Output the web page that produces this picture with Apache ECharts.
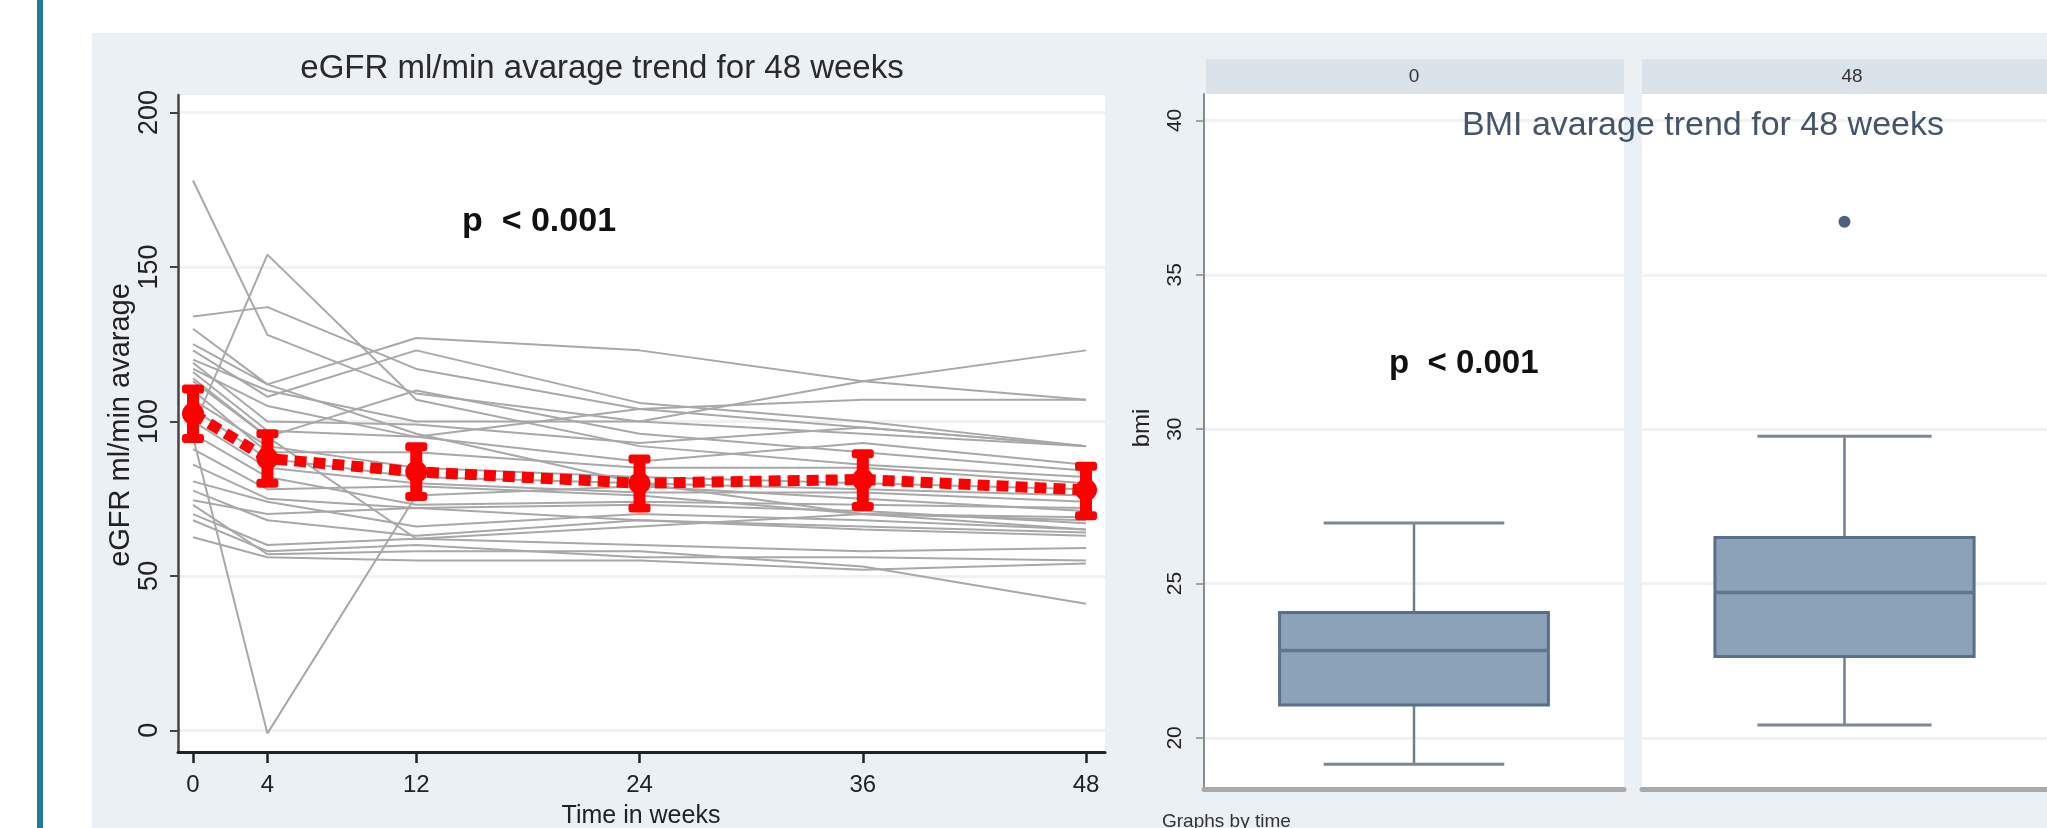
<!DOCTYPE html>
<html><head><meta charset="utf-8">
<script src="https://cdn.jsdelivr.net/npm/echarts@6/dist/echarts.min.js"></script>
<style>html,body{margin:0;padding:0;background:#fff}#c{width:2047px;height:828px}</style>
</head><body><div id="c"></div>
<script>
// ---- data ----
const weeks = [0, 4, 12, 24, 36, 48];
const egfrTicks = [0, 50, 100, 150, 200];
const subjects = [
  [178, 128, 109, 100, 96, 92],
  [98, 154, 107, 92, 86, 82],
  [95, -1, 76, 79, 75, 71],
  [134, 137, 117, 104, 98, 92],
  [125, 112, 127, 123, 113, 107],
  [123, 108, 123, 106, 100, 92],
  [120, 110, 100, 100, 113, 123],
  [117, 105, 95, 104, 107, 107],
  [119, 100, 99, 93, 98, 92],
  [116, 97, 95, 87, 93, 86],
  [114, 95, 110, 96, 90, 84],
  [110, 90, 90, 85, 85, 80],
  [107, 92, 85, 82, 80, 78],
  [104, 88, 82, 80, 78, 76],
  [100, 85, 80, 77, 77, 74],
  [96, 82, 73, 74, 73, 72],
  [91, 78, 79, 76, 70, 69],
  [86, 75, 72, 73, 71, 67],
  [80.6, 74, 66, 70, 68, 65],
  [77.6, 68, 63, 68, 66, 64],
  [74.5, 70, 72, 68, 65, 63],
  [70, 60, 62, 60, 58, 59],
  [68, 58, 60, 56, 56, 55],
  [62.5, 56, 55, 55, 52, 54],
  [73, 57, 58, 58, 53, 41],
  [113, 95, 62, 66, 70, 68],
  [130, 112, 96, 80, 70, 65]
];
const meanEGFR = [102.5, 88, 83.7, 80, 81.2, 77.8];
const ciLow = [94, 79.5, 75.2, 71.5, 72, 69];
const ciHigh = [111, 96.5, 92.3, 88.3, 90, 86];

const bmiGroups = ['0', '48'];
const bmiTicks = [20, 25, 30, 35, 40];
const bmiWhiskerLow = [19.15, 20.42];
const bmiQ1 = [21.07, 22.64];
const bmiMedian = [22.83, 24.71];
const bmiQ3 = [24.06, 26.49];
const bmiWhiskerHigh = [26.96, 29.77];
const bmiOutliers48 = [36.72];

// ---- fonts ----
function fontOK(name) {
  const c = document.createElement('canvas').getContext('2d');
  const s = 'mmmmmmmmmmlli0123456789Time';
  c.font = '40px monospace'; const a = c.measureText(s).width;
  c.font = "40px '" + name + "', monospace"; const b = c.measureText(s).width;
  return Math.abs(a - b) > 0.5;
}
const HAS_NARROW = fontOK('Liberation Sans Narrow');
const NARROW = HAS_NARROW ? "'Liberation Sans Narrow', 'Liberation Sans', sans-serif" : "'Liberation Sans', sans-serif";
const nsz = s => HAS_NARROW ? s : Math.round(s * 0.84);
const SANS = "'Liberation Sans', Arial, sans-serif";

const chart = echarts.init(document.getElementById('c'), null, {renderer: 'canvas'});

const greySeries = subjects.map(s => ({
  type: 'line', xAxisIndex: 0, yAxisIndex: 0,
  data: weeks.map((w, j) => [w, s[j]]),
  symbol: 'none', silent: true, z: 2,
  lineStyle: {color: '#a8a8a8', width: 2}
}));

const RED = '#ff0000';
function errRender(params, api) {
  const x = api.value(0), m = api.value(1), lo = api.value(2), hi = api.value(3);
  const pm = api.coord([x, m]), pl = api.coord([x, lo]), ph = api.coord([x, hi]);
  return {type: 'group', children: [
    {type: 'rect', shape: {x: pm[0] - 6, y: ph[1], width: 12, height: pl[1] - ph[1]}, style: {fill: RED}},
    {type: 'rect', shape: {x: pm[0] - 11, y: ph[1] - 3, width: 22, height: 9, r: 3}, style: {fill: RED}},
    {type: 'rect', shape: {x: pm[0] - 11, y: pl[1] - 6, width: 22, height: 9, r: 3}, style: {fill: RED}},
    {type: 'circle', shape: {cx: pm[0], cy: pm[1], r: 11}, style: {fill: RED}}
  ]};
}

function boxRender(params, api) {
  const c = api.value(0);
  const wl = api.value(1), q1 = api.value(2), med = api.value(3), q3 = api.value(4), wh = api.value(5);
  const band = api.size([1, 0])[0];
  const bw = band * 0.64, cw = band * 0.43;
  const pq1 = api.coord([c, q1]), pq3 = api.coord([c, q3]), pm = api.coord([c, med]);
  const pwl = api.coord([c, wl]), pwh = api.coord([c, wh]);
  const cx = pq1[0];
  const wStyle = {stroke: '#6f7f92', lineWidth: 2.5};
  return {type: 'group', children: [
    {type: 'line', shape: {x1: cx, y1: pwh[1], x2: cx, y2: pq3[1]}, style: wStyle},
    {type: 'line', shape: {x1: cx, y1: pq1[1], x2: cx, y2: pwl[1]}, style: wStyle},
    {type: 'line', shape: {x1: cx - cw / 2, y1: pwh[1], x2: cx + cw / 2, y2: pwh[1]}, style: {stroke: '#7d8694', lineWidth: 3}},
    {type: 'line', shape: {x1: cx - cw / 2, y1: pwl[1], x2: cx + cw / 2, y2: pwl[1]}, style: {stroke: '#7d8694', lineWidth: 3}},
    {type: 'rect', shape: {x: cx - bw / 2, y: pq3[1], width: bw, height: pq1[1] - pq3[1]},
      style: {fill: '#8ba2b8', stroke: '#586f89', lineWidth: 3}},
    {type: 'line', shape: {x1: cx - bw / 2, y1: pm[1], x2: cx + bw / 2, y2: pm[1]}, style: {stroke: '#5f7690', lineWidth: 3.5}}
  ]};
}

const bmiYBase = {
  type: 'value', min: 18.33, max: 40.855,
  axisLine: {show: true, onZero: false, lineStyle: {color: '#8a8a8a', width: 2}},
  axisTick: {show: true, customValues: bmiTicks, length: 8, lineStyle: {color: '#8a8a8a', width: 1.5}},
  axisLabel: {show: true, customValues: bmiTicks, rotate: 90, margin: 18, fontSize: 21, fontFamily: SANS, color: '#222'},
  splitLine: {show: true, lineStyle: {color: '#eff1f2', width: 3}}
};

const option = {
  animation: false,
  backgroundColor: '#ffffff',
  grid: [
    {left: 178, top: 95, width: 927, height: 657, show: true, backgroundColor: '#ffffff', borderWidth: 0},
    {left: 1204, top: 94, width: 420, height: 695.5, show: true, backgroundColor: '#ffffff', borderWidth: 0},
    {left: 1642, top: 94, width: 420, height: 695.5, show: true, backgroundColor: '#ffffff', borderWidth: 0}
  ],
  xAxis: [
    {gridIndex: 0, type: 'value', min: -0.806, max: 49.02,
      axisLine: {show: true, onZero: false, lineStyle: {color: '#222', width: 3}},
      axisTick: {show: true, customValues: weeks, length: 11, lineStyle: {color: '#222', width: 2.5}},
      axisLabel: {customValues: weeks, margin: 21, fontSize: nsz(29), fontFamily: NARROW, color: '#222'},
      splitLine: {show: false}},
    {gridIndex: 1, type: 'category', data: [bmiGroups[0]],
      axisLine: {show: true, lineStyle: {color: '#a9a9a9', width: 5}},
      axisTick: {show: false}, axisLabel: {show: false}, splitLine: {show: false}},
    {gridIndex: 2, type: 'category', data: [bmiGroups[1]],
      axisLine: {show: true, lineStyle: {color: '#a9a9a9', width: 5}},
      axisTick: {show: false}, axisLabel: {show: false}, splitLine: {show: false}}
  ],
  yAxis: [
    {gridIndex: 0, type: 'value', min: -7.02, max: 205.67,
      axisLine: {show: true, onZero: false, lineStyle: {color: '#444', width: 2.5}},
      axisTick: {show: true, customValues: egfrTicks, length: 8, lineStyle: {color: '#444', width: 2}},
      axisLabel: {customValues: egfrTicks, rotate: 90, margin: 15, fontSize: 27, fontFamily: SANS, color: '#222'},
      splitLine: {show: true, lineStyle: {color: '#eef2f4', width: 3}}},
    Object.assign({gridIndex: 1}, bmiYBase),
    Object.assign({gridIndex: 2}, bmiYBase, {
      axisLine: {show: false}, axisTick: {show: false, customValues: bmiTicks},
      axisLabel: {show: false, customValues: bmiTicks}})
  ],
  series: greySeries.concat([
    {type: 'line', xAxisIndex: 0, yAxisIndex: 0, z: 3, symbol: 'none', silent: true,
      data: weeks.map((w, i) => [w, meanEGFR[i]]),
      lineStyle: {color: RED, width: 11, type: [12, 7], cap: 'butt'}},
    {type: 'custom', xAxisIndex: 0, yAxisIndex: 0, z: 4, silent: true,
      data: weeks.map((w, i) => [w, meanEGFR[i], ciLow[i], ciHigh[i]]),
      encode: {x: 0, y: 1}, renderItem: errRender},
    {type: 'custom', xAxisIndex: 1, yAxisIndex: 1, z: 3, silent: true,
      data: [[0, bmiWhiskerLow[0], bmiQ1[0], bmiMedian[0], bmiQ3[0], bmiWhiskerHigh[0]]],
      encode: {x: 0, y: 3}, renderItem: boxRender},
    {type: 'custom', xAxisIndex: 2, yAxisIndex: 2, z: 3, silent: true,
      data: [[0, bmiWhiskerLow[1], bmiQ1[1], bmiMedian[1], bmiQ3[1], bmiWhiskerHigh[1]]],
      encode: {x: 0, y: 3}, renderItem: boxRender},
    {type: 'scatter', xAxisIndex: 2, yAxisIndex: 2, z: 4, silent: true,
      data: bmiOutliers48.map(v => [0, v]), symbol: 'circle', symbolSize: 12,
      itemStyle: {color: '#1f3a5f'}}
  ]),
  graphic: [
    {type: 'rect', z: -10, shape: {x: 92, y: 33, width: 1955, height: 795}, style: {fill: '#eaf0f3'}},
    {type: 'rect', z: -10, shape: {x: 37, y: 0, width: 6, height: 828}, style: {fill: '#1f7b9d'}},
    {type: 'rect', z: -5, shape: {x: 1206, y: 59, width: 418, height: 35}, style: {fill: '#d9e3e9'}},
    {type: 'rect', z: -5, shape: {x: 1642, y: 59, width: 420, height: 35}, style: {fill: '#d9e3e9'}},
    {type: 'text', z: 50, x: 602, y: 69, style: {text: 'eGFR ml/min avarage trend for 48 weeks', font: '33px ' + SANS, fill: '#2a2a2a', align: 'center', verticalAlign: 'middle'}},
    {type: 'text', z: 50, x: 121, y: 425, rotation: Math.PI / 2, style: {text: 'eGFR ml/min avarage', font: '29px ' + SANS, fill: '#222', align: 'center', verticalAlign: 'middle'}},
    {type: 'text', z: 50, x: 641, y: 816, style: {text: 'Time in weeks', font: nsz(30) + 'px ' + NARROW, fill: '#222', align: 'center', verticalAlign: 'middle'}},
    {type: 'text', z: 50, x: 462, y: 222, style: {text: 'p  < 0.001', font: 'bold 34px ' + SANS, fill: '#111', align: 'left', verticalAlign: 'middle'}},
    {type: 'text', z: 50, x: 1389, y: 364, style: {text: 'p  < 0.001', font: 'bold 33px ' + SANS, fill: '#111', align: 'left', verticalAlign: 'middle'}},
    {type: 'text', z: 50, x: 1703, y: 126, style: {text: 'BMI avarage trend for 48 weeks', font: '34px ' + SANS, fill: '#44546a', align: 'center', verticalAlign: 'middle'}},
    {type: 'text', z: 50, x: 1414, y: 77, style: {text: bmiGroups[0], font: '19px ' + SANS, fill: '#333', align: 'center', verticalAlign: 'middle'}},
    {type: 'text', z: 50, x: 1852, y: 77, style: {text: bmiGroups[1], font: '19px ' + SANS, fill: '#333', align: 'center', verticalAlign: 'middle'}},
    {type: 'text', z: 50, x: 1142, y: 428, rotation: Math.PI / 2, style: {text: 'bmi', font: '24px ' + SANS, fill: '#222', align: 'center', verticalAlign: 'middle'}},
    {type: 'text', z: 50, x: 1162, y: 822, style: {text: 'Graphs by time', font: '19px ' + SANS, fill: '#333', align: 'left', verticalAlign: 'middle'}}
  ]
};
chart.setOption(option);
</script></body></html>
